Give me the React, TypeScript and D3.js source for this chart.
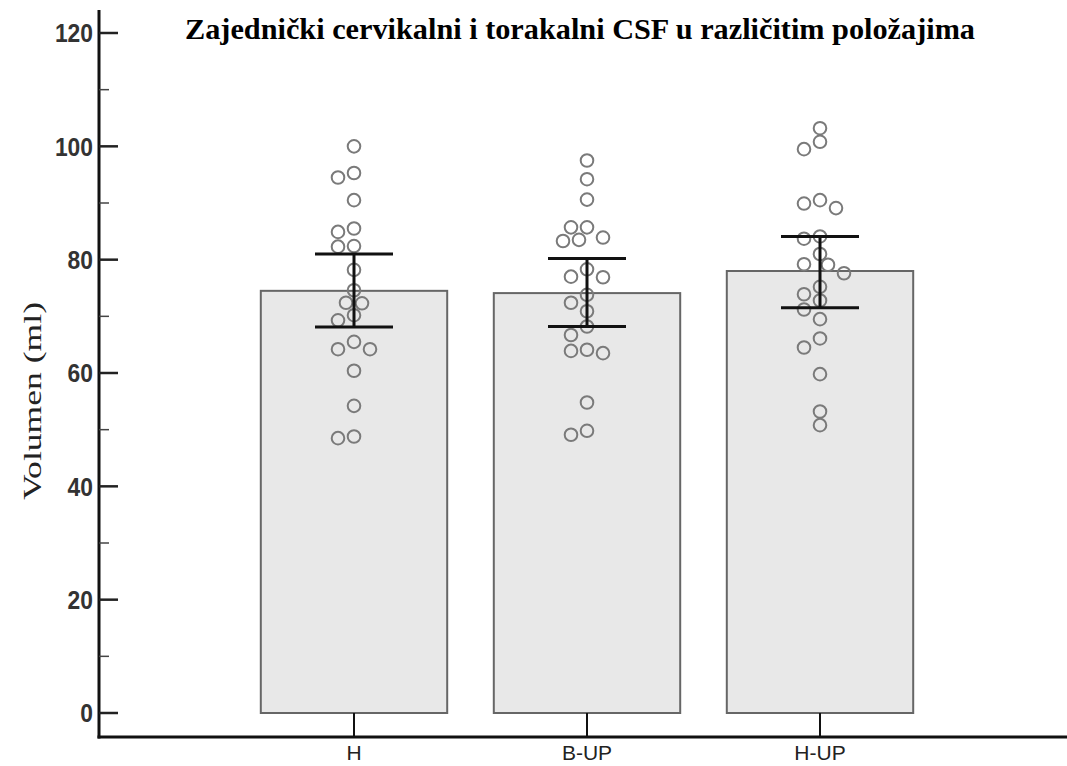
import React from "react";
import * as d3 from "d3";

const categories = ["H", "B-UP", "H-UP"];
const means = [74.5, 74.1, 78.0];
const ciLow = [68.1, 68.2, 71.5];
const ciHigh = [81.0, 80.2, 84.1];

const pointsH = [100.0, 95.3, 94.5, 90.5, 85.5, 84.9, 82.4, 82.3, 78.2, 74.6, 72.4, 72.3, 70.2, 69.3, 65.5, 64.2, 64.2, 60.4, 54.2, 48.8, 48.5];
const pointsBUP = [97.5, 94.2, 90.6, 85.7, 85.7, 83.9, 83.5, 83.3, 78.3, 77.0, 76.9, 73.8, 72.4, 70.9, 68.2, 66.7, 64.1, 63.9, 63.5, 54.8, 49.8, 49.1];
const pointsHUP = [103.2, 100.8, 99.5, 90.5, 89.9, 89.1, 84.1, 83.7, 81.0, 79.2, 79.1, 77.6, 75.2, 73.9, 72.8, 71.2, 69.5, 66.1, 64.5, 59.8, 53.2, 50.8];
const groupPoints = [pointsH, pointsBUP, pointsHUP];

const yTicks = [0, 20, 40, 60, 80, 100, 120];
const yMinorTicks = [10, 30, 50, 70, 90, 110];

const W = 1067;
const H = 766;
const axisX = 99;
const axisY = 737;

function swarm(vals: number[], y: (v: number) => number, step: number, diam: number) {
  const placed: { x: number; y: number }[] = [];
  const sorted = [...vals].sort((a, b) => b - a);
  for (const v of sorted) {
    const py = y(v);
    let chosen = 0;
    for (let k = 0; k < 20; k++) {
      const cands = k === 0 ? [0] : [-k * step, k * step];
      let ok = false;
      for (const c of cands) {
        if (placed.every((p) => Math.hypot(p.x - c, p.y - py) >= diam)) {
          chosen = c;
          ok = true;
          break;
        }
      }
      if (ok) break;
    }
    placed.push({ x: chosen, y: py });
  }
  return placed;
}

export default function App() {
  const y = d3.scaleLinear().domain([0, 120]).range([713, 33]);
  const x = d3.scaleBand().domain(categories).range([237.5, 936.5]).paddingInner(0.2).paddingOuter(0.1);
  const bw = x.bandwidth();

  return (
    <svg width={W} height={H} style={{ position: "absolute", left: 0, top: 0, background: "#fff" }}>
      <text
        x={580}
        y={39}
        textAnchor="middle"
        fontFamily="'Liberation Serif', 'Times New Roman', serif"
        fontWeight="bold"
        fontSize={29}
        textLength={790}
        lengthAdjust="spacingAndGlyphs"
        fill="#000"
      >
        Zajednički cervikalni i torakalni CSF u različitim položajima
      </text>

      {/* bars */}
      {categories.map((c, i) => (
        <rect
          key={c}
          x={x(c)!}
          y={y(means[i])}
          width={bw}
          height={y(0) - y(means[i])}
          fill="#e8e8e8"
          stroke="#666"
          strokeWidth={2}
        />
      ))}

      {/* points */}
      {categories.map((c, i) => {
        const cx = x(c)! + bw / 2;
        const pts = swarm(groupPoints[i], y, 8, 13);
        return (
          <g key={"p" + c}>
            {pts.map((p, j) => (
              <circle key={j} cx={cx + p.x} cy={p.y} r={6.3} fill="none" stroke="#7a7a7a" strokeWidth={2} />
            ))}
          </g>
        );
      })}

      {/* error bars */}
      {categories.map((c, i) => {
        const cx = x(c)! + bw / 2;
        return (
          <g key={"e" + c} stroke="#111" strokeWidth={3}>
            <line x1={cx} x2={cx} y1={y(ciHigh[i])} y2={y(ciLow[i])} />
            <line x1={cx - 39} x2={cx + 39} y1={y(ciHigh[i])} y2={y(ciHigh[i])} />
            <line x1={cx - 39} x2={cx + 39} y1={y(ciLow[i])} y2={y(ciLow[i])} />
          </g>
        );
      })}

      {/* y axis */}
      <line x1={axisX} x2={axisX} y1={10} y2={axisY + 1.5} stroke="#111" strokeWidth={3} />
      {yTicks.map((t) => {
        const s = String(t);
        return (
          <g key={t}>
            <line x1={axisX} x2={118} y1={y(t)} y2={y(t)} stroke="#222" strokeWidth={2.5} />
            <text
              x={93}
              y={y(t)}
              dy="0.36em"
              textAnchor="end"
              fontFamily="'Liberation Sans', Arial, sans-serif"
              fontWeight="bold"
              fontSize={26}
              textLength={s.length * 12.7}
              lengthAdjust="spacingAndGlyphs"
              fill="#333"
            >
              {s}
            </text>
          </g>
        );
      })}
      {yMinorTicks.map((t) => (
        <line key={"m" + t} x1={axisX} x2={109} y1={y(t)} y2={y(t)} stroke="#444" strokeWidth={1.5} />
      ))}
      <text
        transform={`translate(41,401) rotate(-90)`}
        textAnchor="middle"
        fontFamily="'Liberation Serif', 'Times New Roman', serif"
        fontSize={25}
        textLength={198}
        lengthAdjust="spacingAndGlyphs"
        fill="#222"
      >
        Volumen (ml)
      </text>

      {/* x axis */}
      <line x1={axisX - 1.5} x2={W} y1={axisY} y2={axisY} stroke="#111" strokeWidth={3} />
      {categories.map((c) => {
        const cx = x(c)! + bw / 2;
        return (
          <g key={"x" + c}>
            <line x1={cx} x2={cx} y1={y(0)} y2={axisY} stroke="#111" strokeWidth={2} />
            <text
              x={cx}
              y={760}
              textAnchor="middle"
              fontFamily="'Liberation Sans', Arial, sans-serif"
              fontSize={21}
              fill="#222"
            >
              {c}
            </text>
          </g>
        );
      })}
    </svg>
  );
}
